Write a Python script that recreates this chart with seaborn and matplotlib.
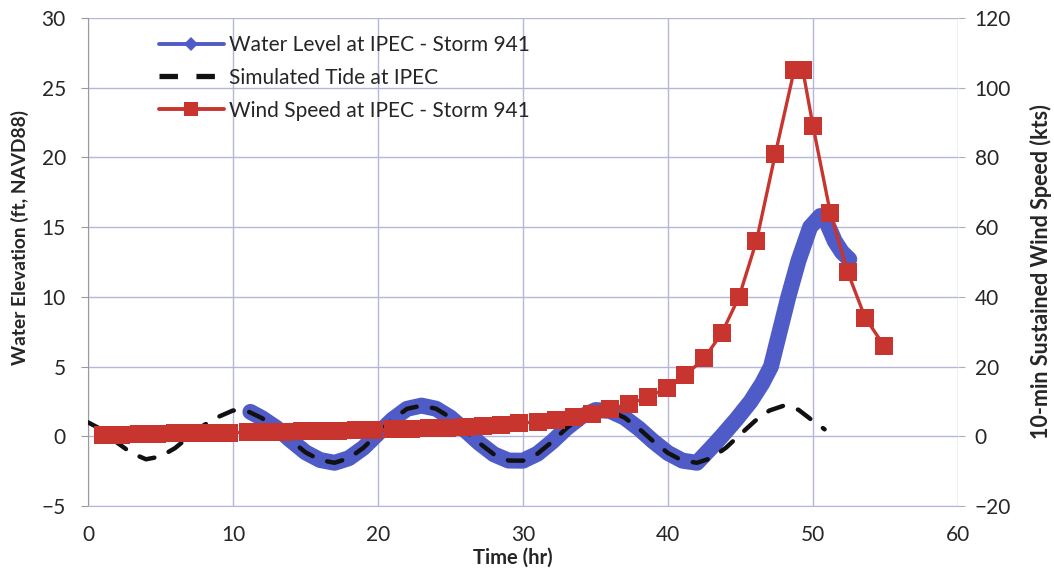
import matplotlib
matplotlib.use("Agg")
import matplotlib.pyplot as plt
from matplotlib.lines import Line2D
import seaborn as sns
import pandas as pd

# ---- data ----
tide_t = list(range(0, 51)) + [50.8]
tide_v = [1.0, 0.45, -0.45, -1.2, -1.65, -1.45, -0.85, 0.0, 0.8, 1.4,
          1.85, 1.8, 1.3, 0.6, -0.3, -1.15, -1.7, -1.9, -1.57, -0.82,
          0.2, 1.2, 1.97, 2.2, 1.98, 1.34, 0.44, -0.5, -1.3, -1.74,
          -1.75, -1.25, -0.4, 0.58, 1.4, 1.88, 1.82, 1.34, 0.55, -0.38,
          -1.2, -1.75, -1.9, -1.56, -0.82, 0.15, 1.1, 1.85, 2.2, 1.9,
          1.1, 0.5]

water_t = [11.2] + list(range(12, 43)) + [43, 43.7, 44.7, 45.7, 46.5, 47.1, 47.7,
                                          48.3, 49.0, 49.8, 50.5, 51.0, 51.5, 52.0, 52.5]
water_v = [1.75, 1.3, 0.6, -0.3, -1.15, -1.7, -1.9, -1.57, -0.82,
           0.2, 1.2, 1.97, 2.2, 1.98, 1.34, 0.44, -0.5, -1.3, -1.74,
           -1.75, -1.25, -0.4, 0.58, 1.4, 1.88, 1.82, 1.34, 0.55, -0.38,
           -1.2, -1.75, -1.9,
           -0.8, 0.0, 1.2, 2.5, 3.8, 5.0, 7.5, 10.0, 12.6, 15.0, 15.8, 15.2,
           14.0, 13.2, 12.7]

wind_t = [1.0, 2.25, 3.5, 4.75, 6.0, 7.25, 8.5, 9.75, 11.0, 12.25, 13.5, 14.75,
          16.0, 17.25, 18.5, 19.75, 21.0, 22.25, 23.5, 24.75, 26.0, 27.25, 28.5,
          29.75, 31.0, 32.25, 33.5, 34.75, 36.0, 37.3, 38.6, 39.9, 41.2, 42.5,
          43.7, 44.9, 46.1, 47.4, 48.7, 49.3, 50.0, 51.2, 52.4, 53.6, 54.9]
wind_v = [0.4, 0.5, 0.6, 0.7, 0.8, 0.9, 1.0, 1.0, 1.1, 1.2, 1.3, 1.4, 1.5, 1.6,
          1.7, 1.8, 2.0, 2.1, 2.3, 2.5, 2.8, 3.0, 3.3, 3.7, 4.2, 4.8, 5.5, 6.5,
          7.8, 9.3, 11.2, 13.8, 17.5, 22.4, 29.5, 40, 56, 81, 105, 105, 89, 64,
          47, 34, 26]

labels = ["Water Level at IPEC - Storm 941", "Simulated Tide at IPEC",
          "Wind Speed at IPEC - Storm 941"]
x_label = "Time (hr)"
y_label = "Water Elevation (ft, NAVD88)"
y2_label = "10-min Sustained Wind Speed (kts)"

# ---- style ----
sns.set_style("white")
plt.rcParams['font.family'] = ['Lato', 'DejaVu Sans']

BLUE = "#4F5BC6"
RED = "#C8342E"
GRID = "#B4B6DA"
TXT = "#262626"

fig = plt.figure(figsize=(10.54, 5.74), dpi=100)
ax = fig.add_axes([88/1054, 1 - 506/574, (958-88)/1054, (506-18)/574])
ax2 = ax.twinx()

df_w = pd.DataFrame({"t": water_t, "v": water_v})
df_t = pd.DataFrame({"t": tide_t, "v": tide_v})
df_s = pd.DataFrame({"t": wind_t, "v": wind_v})

sns.lineplot(data=df_w, x="t", y="v", ax=ax, color=BLUE, linewidth=11.5,
             estimator=None, sort=False, solid_capstyle="round",
             solid_joinstyle="round", zorder=3)
sns.lineplot(data=df_t, x="t", y="v", ax=ax, color="#111111", linewidth=3.2,
             estimator=None, sort=False, dashes=False, zorder=4)
ax.lines[-1].set_dashes([3.5, 3.5])
ax.lines[-1].set_dash_capstyle("round")

sns.lineplot(data=df_s, x="t", y="v", ax=ax2, color=RED, linewidth=2.4,
             marker="s", markersize=13.5, markeredgewidth=0,
             estimator=None, sort=False, zorder=5)

ax.set_xlim(0, 60)
ax.set_ylim(-5, 30)
ax2.set_ylim(-20, 120)
ax.set_xticks(range(0, 61, 10))
ax.set_yticks(range(-5, 31, 5))
ax2.set_yticks(range(-20, 121, 20))

ax.grid(True, color=GRID, linewidth=1)
ax2.grid(False)
for a in (ax, ax2):
    for s in a.spines.values():
        s.set_visible(False)
ax.spines['left'].set_visible(True)
ax.spines['left'].set_color("#9a9a9a")
ax.spines['bottom'].set_visible(True)
ax.spines['bottom'].set_color(GRID)

ax.tick_params(axis='y', direction='out', length=5, color="#9a9a9a",
               labelsize=15, labelcolor=TXT, pad=11)
ax.tick_params(axis='x', direction='out', length=5, color="#9a9a9a",
               labelsize=15, labelcolor=TXT, pad=9)
ax2.tick_params(axis='y', direction='out', length=5, color="#b0b0b0",
                labelsize=15, labelcolor=TXT, pad=7)

ax.set_xlabel(x_label, fontsize=14.5, fontweight='bold', color=TXT)
ax.set_ylabel(y_label, fontsize=13.8, fontweight='bold', color=TXT)
ax2.set_ylabel(y2_label, fontsize=15.5, fontweight='bold', color=TXT)
ax.xaxis.set_label_coords(0.4885, -0.085)
ax.yaxis.set_label_coords(-0.068, 0.55)
ax2.yaxis.set_label_coords(1.083, 0.48)

handles = [
    Line2D([0], [0], color=BLUE, linewidth=2.8, marker='D', markersize=7.5,
           markeredgewidth=0),
    Line2D([0], [0], color="#111111", linewidth=3.8, dashes=[3.5, 3.5]),
    Line2D([0], [0], color=RED, linewidth=2.8, marker='s', markersize=10.5,
           markeredgewidth=0),
]
ax2.legend(handles, labels, loc="upper left", bbox_to_anchor=(0.060, 1.004),
           frameon=False, fontsize=15, handlelength=3.1, handletextpad=0.25,
           labelspacing=0.62, labelcolor=TXT)

fig.savefig("out.png", dpi=100)
